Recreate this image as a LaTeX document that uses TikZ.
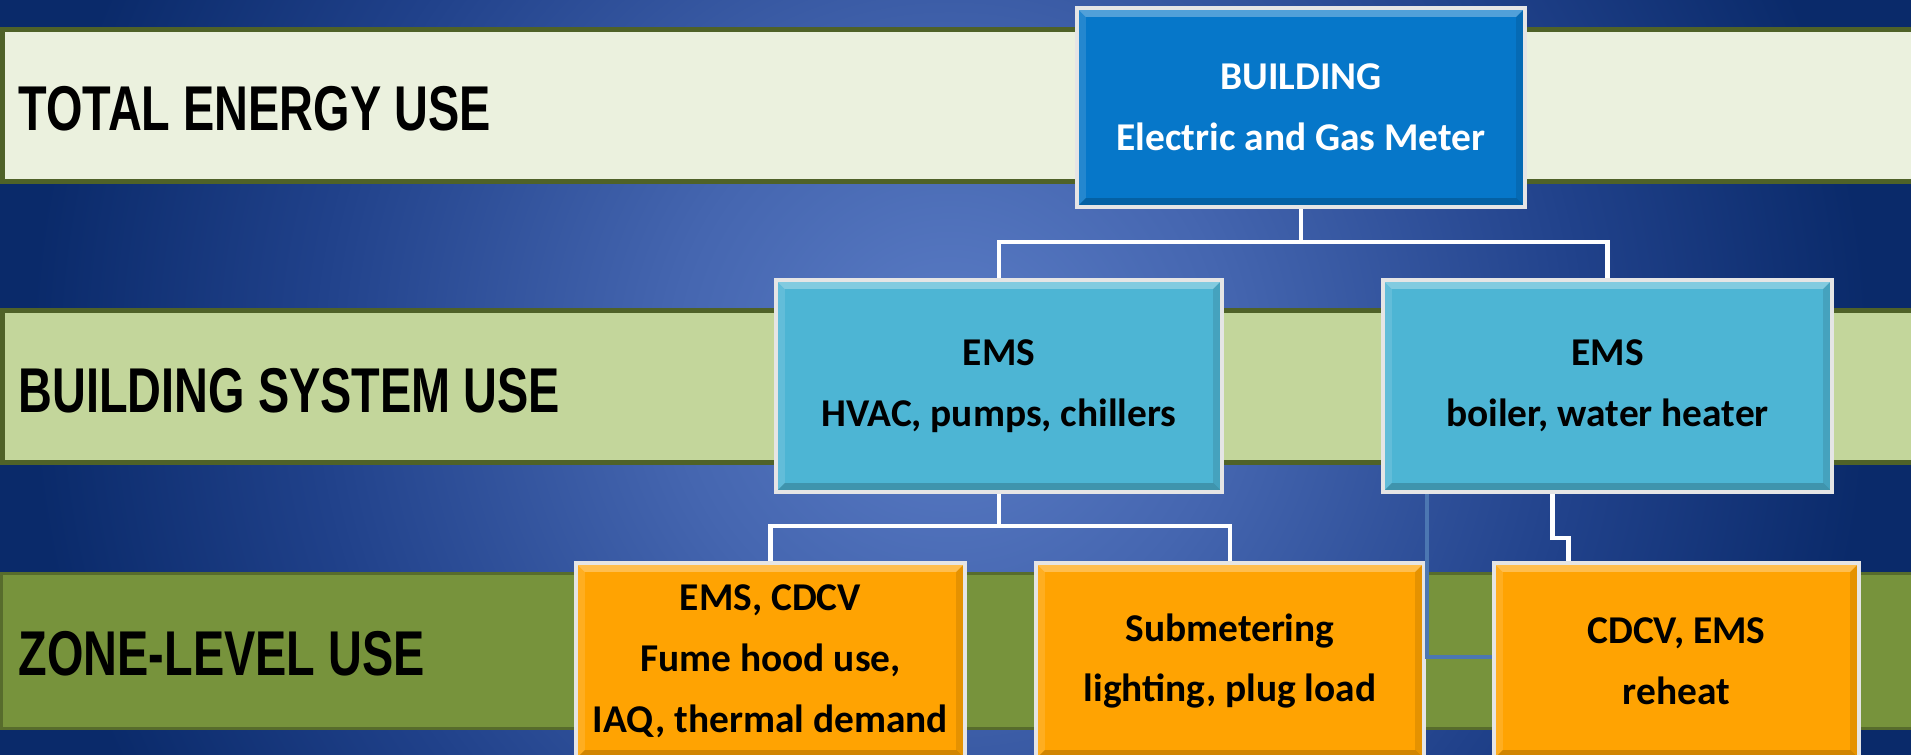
\documentclass[tikz,border=0pt]{standalone}
\usepackage{fontspec}
\setmainfont{Carlito}
\newfontfamily\bandfont[FakeStretch=0.74]{Liberation Sans}
\usepackage{tikz}
\usetikzlibrary{calc}
\definecolor{bgcentre}{HTML}{5B7DC6}
\definecolor{bgmid}{HTML}{4566B0}
\definecolor{bgdeep}{HTML}{20418A}
\definecolor{bgouter}{HTML}{0A2A6A}
\definecolor{bandpale}{HTML}{EBF1DE}
\definecolor{bandsage}{HTML}{C3D69B}
\definecolor{bandolive}{HTML}{77933C}
\definecolor{bandedge}{HTML}{4F6228}
\definecolor{meterblue}{HTML}{0677C9}
\definecolor{emscyan}{HTML}{4DB5D4}
\definecolor{zoneorange}{HTML}{FFA302}
\definecolor{ghostblue}{HTML}{4C77B2}
\pgfdeclareradialshading{backdrop}{\pgfpoint{0bp}{0bp}}{color(0bp)=(bgcentre); color(7bp)=(bgmid); color(16bp)=(bgdeep); color(23bp)=(bgouter); color(50bp)=(bgouter)}

\tikzset{
  tierband/.style={fill=#1, draw=bandedge, line width=1.4pt},
  bandlabel/.style={anchor=base west, inner sep=0pt, font=\bandfont\bfseries\fontsize{18}{20}\selectfont},
  tierbox/.style={fill=#1, draw=white!80!gray, line width=1.1pt, inner sep=0pt, align=center,
    font=\bfseries\fontsize{11.2}{17.3}\selectfont,
    path picture={
      \coordinate (nw) at (path picture bounding box.north west);
      \coordinate (ne) at (path picture bounding box.north east);
      \coordinate (sw) at (path picture bounding box.south west);
      \coordinate (se) at (path picture bounding box.south east);
      \fill[white,opacity=.3] (nw) -- (ne) -- ($(ne)+(-9,9)$) -- ($(nw)+(9,9)$) -- cycle;
      \fill[white,opacity=.12] (nw) -- (sw) -- ($(sw)+(9,-9)$) -- ($(nw)+(9,9)$) -- cycle;
      \fill[black,opacity=.1] (ne) -- (se) -- ($(se)+(-9,-9)$) -- ($(ne)+(-9,9)$) -- cycle;
      \fill[black,opacity=.18] (sw) -- (se) -- ($(se)+(-9,-9)$) -- ($(sw)+(9,-9)$) -- cycle;
    }},
  link/.style={draw=white, line width=1.3pt},
  ghostlink/.style={draw=ghostblue, line width=1.3pt},
}

\begin{document}
\begin{tikzpicture}[x=0.01cm,y=-0.01cm]
  \useasboundingbox (0,0) rectangle (1911,754);
  \clip (0,0) rectangle (1911,754);
  \shade[shading=backdrop] (-50,-635) rectangle (1950,1365);

  % bands
  \draw[tierband=bandpale] (2.5,29.5) rectangle (1960,181.5);
  \draw[tierband=bandsage] (2.5,310.5) rectangle (1960,462.5);
  \draw[tierband=bandolive, draw=bandedge!80!bandolive, line width=0.9pt] (1.5,573.5) rectangle (1960,728.5);
  \node[bandlabel] (lblTotal) at (18,130) {TOTAL ENERGY USE};
  \node[bandlabel] (lblSystem) at (18,412) {BUILDING SYSTEM USE};
  \node[bandlabel] (lblZone) at (18,675) {ZONE-LEVEL USE};

  % boxes
  \node[tierbox=meterblue, text=white, minimum width=4.48cm, minimum height=1.99cm] (meter) at (1301,107.5) {BUILDING\\Electric and Gas Meter};
  \node[tierbox=emscyan, minimum width=4.46cm, minimum height=2.12cm] (hvac) at (999,386) {EMS\\HVAC, pumps, chillers};
  \node[tierbox=emscyan, minimum width=4.49cm, minimum height=2.12cm] (boiler) at (1607.5,386) {EMS\\boiler, water heater};
  \node[tierbox=zoneorange, minimum width=3.89cm, minimum height=1.96cm] (zoneA) at (770.5,661) {EMS, CDCV\\Fume hood use,\\IAQ, thermal demand};
  \node[tierbox=zoneorange, minimum width=3.88cm, minimum height=1.96cm] (zoneB) at (1230,661) {Submetering\\lighting, plug load};
  \node[tierbox=zoneorange, minimum width=3.65cm, minimum height=1.96cm] (zoneC) at (1676.5,661) {CDCV, EMS\\reheat};

  % connectors
  \draw[ghostlink] ($(boiler.south west)+(46,0)$) |- ($(zoneC.west)+(0,-4)$);
  \draw[link] (meter.south) -- ++(0,33) -| (hvac.north);
  \draw[link] (meter.south) -- ++(0,33) -| (boiler.north);
  \draw[link] (hvac.south) -- ++(0,32) -| (zoneA.north);
  \draw[link] (hvac.south) -- ++(0,32) -| (zoneB.north);
  \draw[link] ($(boiler.south)+(-55,0)$) -- ++(0,44) -| ($(zoneC.north)+(-108,0)$);
\end{tikzpicture}
\end{document}
